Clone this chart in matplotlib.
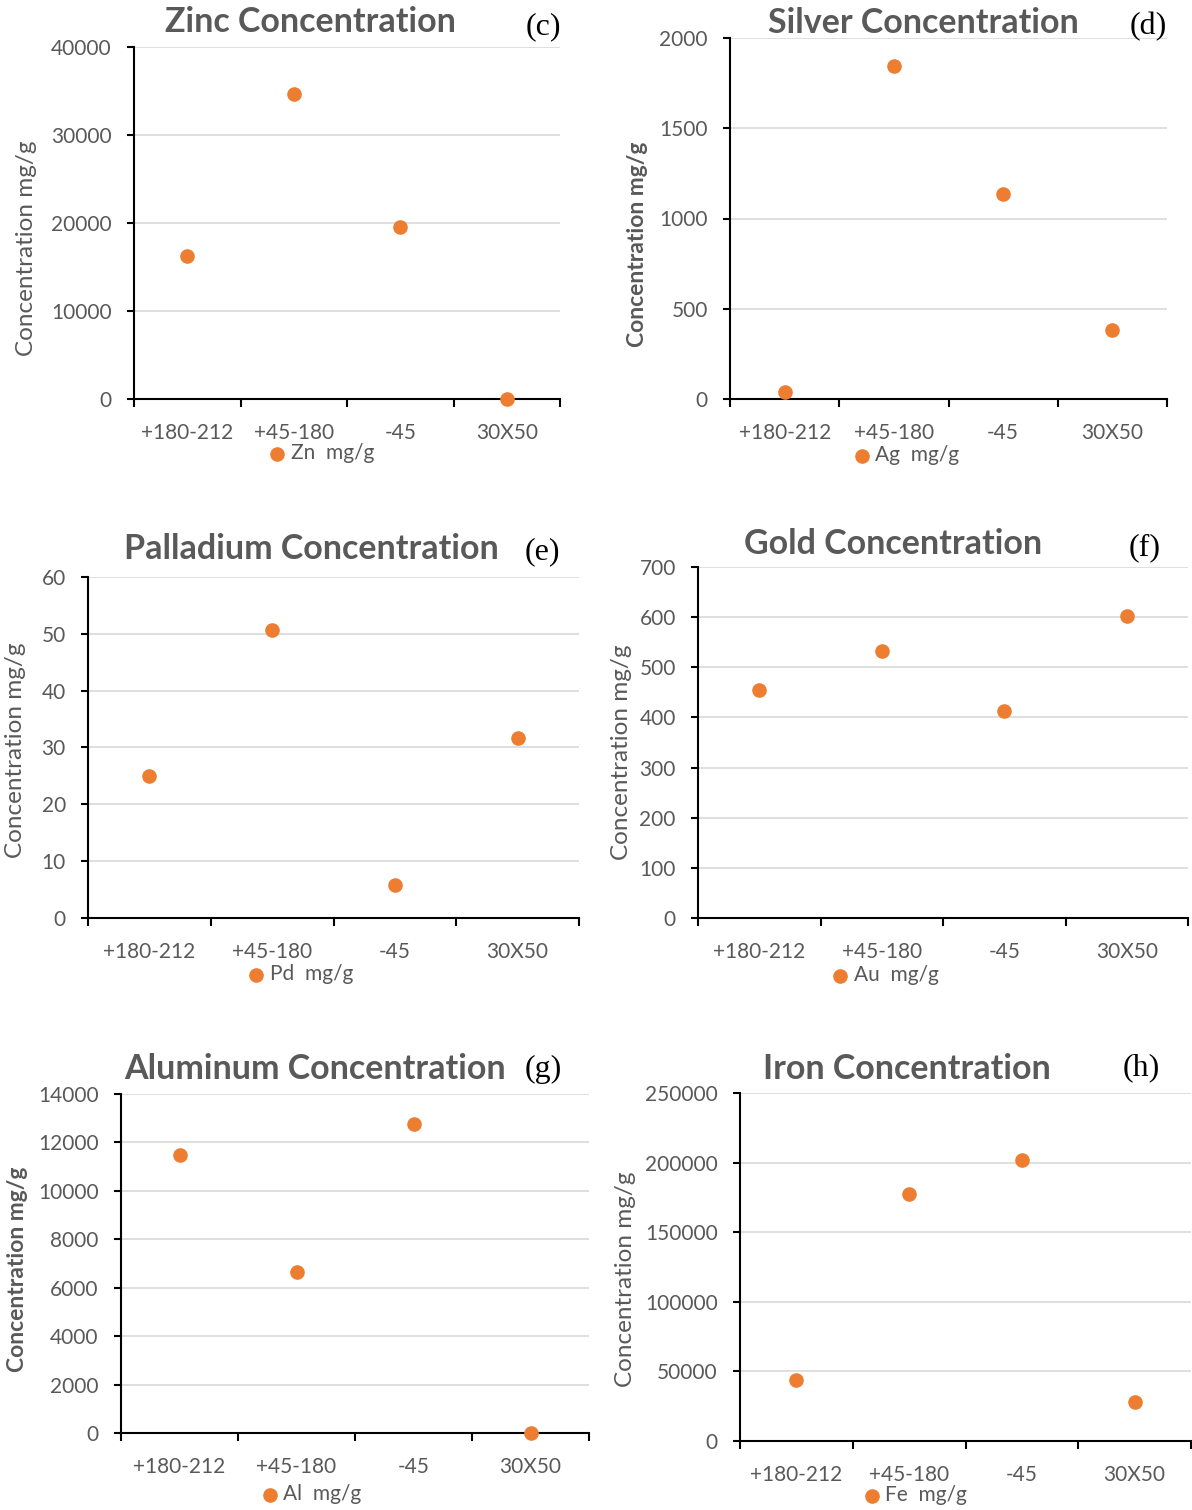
import matplotlib
matplotlib.use("Agg")
from matplotlib import pyplot as plt

categories = ["+180-212", "+45-180", "-45", "30X50"]
zn = [16300, 34700, 19500, 0]
ag = [40, 1845, 1136, 382]
pd_vals = [25.0, 50.6, 5.8, 31.7]
au = [454, 532, 413, 602]
al = [11480, 6650, 12760, 0]
fe = [43800, 177400, 201900, 28000]

W, H = 1192, 1510
orange = "#ED7D31"
gray = "#595959"
plt.rcParams['font.family'] = ['Lato', 'DejaVu Sans']

fig = plt.figure(figsize=(W / 100, H / 100), dpi=100)

# panel specs in pixel coords: axes box, y range, title, letter, ylabel, legend
panels = [
    dict(vals=zn, box=(134, 560, 47, 399), ymax=40000, step=10000,
         title="Zinc Concentration", tpos=(310, 22), letter="(c)", lpos=(543, 27),
         ylpos=(27, 248), ylbold=False, legpos=(322, 453), leg="Zn  mg/g"),
    dict(vals=ag, box=(730, 1167, 38, 399), ymax=2000, step=500,
         title="Silver Concentration", tpos=(923, 23), letter="(d)", lpos=(1148, 27),
         ylpos=(637, 244), ylbold=True, legpos=(907, 455), leg="Ag  mg/g"),
    dict(vals=pd_vals, box=(88, 579, 577, 918), ymax=60, step=10,
         title="Palladium Concentration", tpos=(311, 549), letter="(e)", lpos=(542, 552),
         ylpos=(16, 750), ylbold=False, legpos=(301, 974), leg="Pd  mg/g"),
    dict(vals=au, box=(698, 1188, 567, 918), ymax=700, step=100,
         title="Gold Concentration", tpos=(893, 544), letter="(f)", lpos=(1145, 548),
         ylpos=(621, 752), ylbold=False, legpos=(886, 975), leg="Au  mg/g"),
    dict(vals=al, box=(121, 589, 1094, 1433), ymax=14000, step=2000,
         title="Aluminum Concentration", tpos=(315, 1069), letter="(g)", lpos=(543, 1069),
         ylpos=(18, 1269), ylbold=True, legpos=(312, 1494), leg="Al  mg/g"),
    dict(vals=fe, box=(740, 1191, 1093, 1441), ymax=250000, step=50000,
         title="Iron Concentration", tpos=(907, 1069), letter="(h)", lpos=(1141, 1068),
         ylpos=(625, 1279), ylbold=False, legpos=(916, 1495), leg="Fe  mg/g"),
]

for p in panels:
    l, r, t, b = p["box"]
    ax = fig.add_axes([l / W, 1 - b / H, (r - l) / W, (b - t) / H])
    xs = [i + 0.5 for i in range(len(categories))]
    ax.scatter(xs, p["vals"], s=90, color=orange, zorder=3, clip_on=False, label=p["leg"])
    ax.set_xlim(0, 4)
    ax.set_ylim(0, p["ymax"])
    yt = list(range(0, p["ymax"] + 1, p["step"]))
    ax.set_yticks(yt)
    ax.set_yticklabels([str(v) for v in yt])
    for v in yt[1:]:
        ax.axhline(v, color="#D9D9D9", lw=1.2, zorder=0)
    ax.set_xticks([0, 1, 2, 3, 4])
    ax.set_xticklabels([])
    ax.set_xticks(xs, minor=True)
    ax.set_xticklabels(categories, minor=True)
    ax.tick_params(axis="x", which="major", length=6, width=1.5, direction="out")
    ax.tick_params(axis="x", which="minor", length=0, pad=17, labelsize=15, labelcolor=gray)
    ax.tick_params(axis="y", length=5, width=1.5, pad=11, labelsize=15, labelcolor=gray)
    for s in ["top", "right"]:
        ax.spines[s].set_visible(False)
    for s in ["left", "bottom"]:
        ax.spines[s].set_linewidth(1.5)
        ax.spines[s].set_color("black")

    fig.text(p["tpos"][0] / W, 1 - p["tpos"][1] / H, p["title"], ha="center", va="center",
             fontsize=24.5, fontweight="bold", color=gray)
    fig.text(p["lpos"][0] / W, 1 - p["lpos"][1] / H, p["letter"], ha="center", va="center",
             fontsize=23, family="Liberation Serif", color="black")
    fig.text(p["ylpos"][0] / W, 1 - p["ylpos"][1] / H, "Concentration mg/g", rotation=90,
             ha="center", va="center", fontsize=17.5 if not p["ylbold"] else 16.5, color=gray,
             fontweight="bold" if p["ylbold"] else "normal")
    ax.legend(loc="center", bbox_to_anchor=(p["legpos"][0] / W, 1 - p["legpos"][1] / H),
              bbox_transform=fig.transFigure, frameon=False, fontsize=15,
              handlelength=0.7, handletextpad=0.3, borderpad=0, labelcolor=gray)

fig.savefig("out.png", dpi=100)
